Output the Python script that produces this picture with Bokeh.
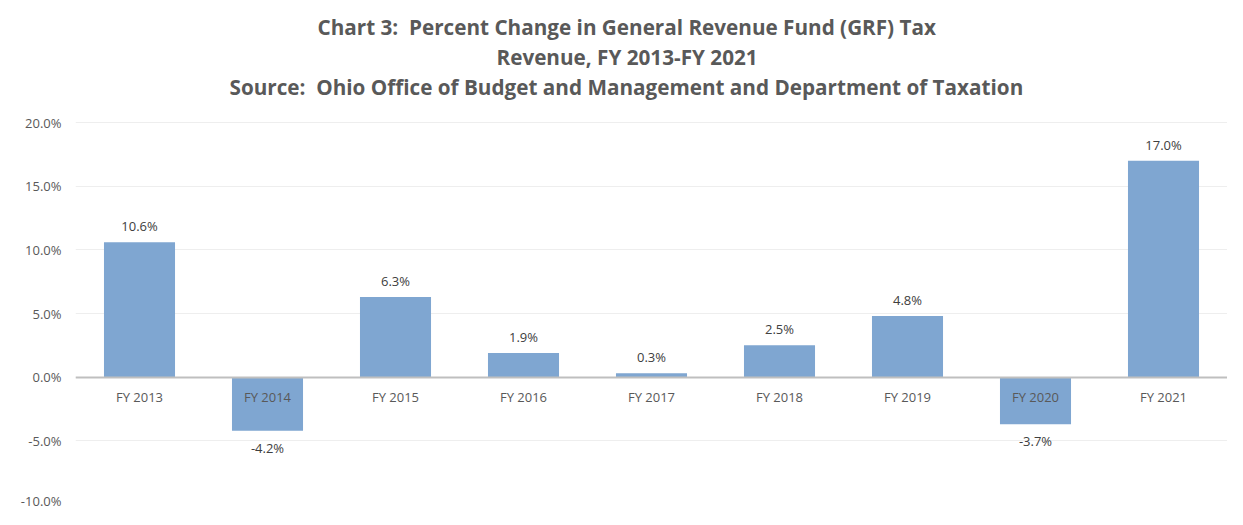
from bokeh.plotting import figure
from bokeh.models import ColumnDataSource, Title, FixedTicker, Range1d, FactorRange
from bokeh.core.properties import value
from bokeh.embed import file_html
from bokeh.resources import INLINE

categories = ["FY 2013", "FY 2014", "FY 2015", "FY 2016", "FY 2017", "FY 2018", "FY 2019", "FY 2020", "FY 2021"]
pct_change = [10.6, -4.2, 6.3, 1.9, 0.3, 2.5, 4.8, -3.7, 17.0]
y_ticks = [-10, -5, 0, 5, 10, 15, 20]
title_lines = [
    "Chart 3:\u00a0 Percent Change in General Revenue Fund (GRF) Tax",
    "Revenue, FY 2013-FY 2021",
    "Source:\u00a0 Ohio Office of Budget and Management and Department of Taxation",
]

FONT = "Open Sans"
GRAY = "#595959"

W, H = 1227, 509
p = figure(width=W, height=H, x_range=FactorRange(*categories), y_range=Range1d(-10, 21.73),
           output_backend="svg", toolbar_location=None,
           min_border_left=75, min_border_right=0, min_border_top=100, min_border_bottom=5)
p.xaxis.visible = False
p.xgrid.visible = False
p.ygrid.grid_line_color = "#EEEEEE"
p.ygrid.ticker = FixedTicker(ticks=y_ticks)
p.yaxis.ticker = FixedTicker(ticks=y_ticks)
p.yaxis.major_label_overrides = {t: f"{t:.1f}%" for t in y_ticks}
p.yaxis.axis_line_color = None
p.yaxis.major_tick_line_color = None
p.yaxis.minor_tick_line_color = None
p.yaxis.major_label_standoff = 8
p.yaxis.major_label_text_font = FONT
p.yaxis.major_label_text_font_size = "13px"
p.yaxis.major_label_text_color = GRAY
p.outline_line_color = None

src = ColumnDataSource(dict(
    cat=categories,
    val=pct_change,
    lab=[f"{v:.1f}%" for v in pct_change],
    zero=[0] * len(categories),
    off=[-16 if v >= 0 else 17 for v in pct_change],
))

p.vbar(x="cat", top="val", bottom=0, width=0.555, source=src,
       fill_color="#7FA6D1", line_color=None)

p.hspan(y=[0], line_color="#BFBFBF", line_width=2)

p.text(x="cat", y="zero", text="cat", source=src, y_offset=20,
       text_align="center", text_baseline="middle",
       text_font=value(FONT), text_font_size="13px", text_color=GRAY)
p.text(x="cat", y="val", text="lab", source=src, y_offset="off",
       text_align="center", text_baseline="middle",
       text_font=value(FONT), text_font_size="13px", text_color="#404040")

offsets = [242, 421, 154]
for line, off in reversed(list(zip(title_lines, offsets))):
    p.add_layout(Title(text=line, align="left", offset=off, standoff=0,
                       text_font=FONT, text_font_style="bold", text_font_size="20.7px",
                       text_color=GRAY), "above")

open("out.html", "w").write(file_html(p, INLINE))
